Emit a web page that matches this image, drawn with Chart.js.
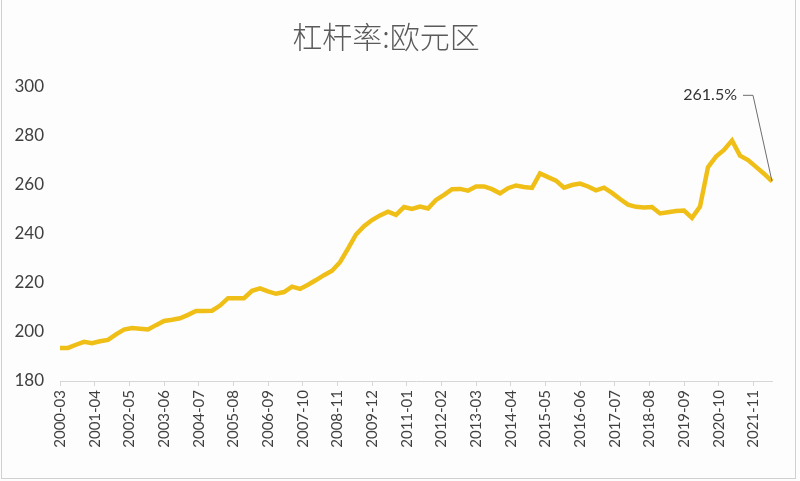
<!DOCTYPE html>
<html>
<head>
<meta charset="utf-8">
<script src="https://cdn.jsdelivr.net/npm/chart.js@4/dist/chart.umd.min.js"></script>
<style>
  html, body { margin: 0; padding: 0; background: #fdfdfd; }
  #wrap { position: relative; width: 800px; height: 481px; }
</style>
</head>
<body>
<div id="wrap"><canvas id="c" width="800" height="481"></canvas></div>
<script>
// ---- data (quarter-end observations, 2000-03 .. 2022-06) ----
const titleText = '杠杆率:欧元区';
const startYear = 2000;
const startMonth = 3;
const endYear = 2022;
const endMonth = 6;
const tickEvery = 13;
const leverage = [
  193.5, 193.5, 194.8, 196.0, 195.4, 196.2, 196.8, 199.0, 201.0, 201.6,
  201.3, 201.0, 202.8, 204.5, 205.0, 205.6, 207.0, 208.6, 208.6, 208.7,
  210.8, 213.8, 213.8, 213.8, 216.8, 217.8, 216.6, 215.6, 216.3, 218.5,
  217.6, 219.3, 221.2, 223.2, 225.0, 228.5, 234.0, 239.8, 243.2, 245.7,
  247.6, 249.1, 247.8, 251.0, 250.2, 251.2, 250.4, 253.9, 256.0, 258.3,
  258.4, 257.7, 259.4, 259.4, 258.3, 256.6, 258.7, 259.8, 259.2, 258.8,
  264.7, 263.2, 261.8, 258.9, 260.0, 260.6, 259.4, 257.8, 258.9, 256.8,
  254.3, 252.0, 251.1, 250.8, 251.0, 248.4, 248.9, 249.4, 249.6, 246.6,
  251.2, 267.3, 271.6, 274.3, 278.2, 272.0, 270.2, 267.4, 264.6, 261.5
];
const lastLabel = '261.5%';
const yTicks = { min: 180, max: 300, step: 20 };

// ---- build monthly category axis ----
const months = [];
{
  let y = startYear, m = startMonth;
  while (y < endYear || (y === endYear && m <= endMonth)) {
    months.push(y + '-' + String(m).padStart(2, '0'));
    m++; if (m > 12) { m = 1; y++; }
  }
}
const series = months.map(() => null);
leverage.forEach((v, q) => { series[q * 3] = v; });

const frame = {
  id: 'frame',
  beforeDraw(chart) {
    const c = chart.ctx;
    c.save();
    c.fillStyle = '#fdfdfd';
    c.fillRect(0, 0, chart.width, chart.height);
    c.restore();
  },
  afterDraw(chart) {
    const c = chart.ctx;
    c.save();
    c.strokeStyle = '#d0d0d0';
    c.lineWidth = 1;
    c.strokeRect(1.5, -5, 794, 483.5);
    c.restore();
  }
};

const callout = {
  id: 'callout',
  afterDatasetsDraw(chart) {
    const meta = chart.getDatasetMeta(0);
    const pt = meta.data[meta.data.length - 1];
    if (!pt) return;
    const c = chart.ctx;
    c.save();
    c.strokeStyle = '#6e6e6e';
    c.lineWidth = 1;
    c.beginPath();
    c.moveTo(pt.x, pt.y);
    c.lineTo(pt.x - 19, pt.y - 86);
    c.lineTo(pt.x - 29, pt.y - 86);
    c.stroke();
    c.fillStyle = '#333333';
    c.font = '16px Lato, "Noto Sans", sans-serif';
    c.textAlign = 'right';
    c.textBaseline = 'middle';
    c.fillText(lastLabel, pt.x - 35, pt.y - 86);
    c.restore();
  }
};

new Chart(document.getElementById('c'), {
  type: 'line',
  data: {
    labels: months,
    datasets: [{
      data: series,
      borderColor: '#efbf17',
      borderWidth: 4.5,
      pointRadius: 0,
      tension: 0,
      spanGaps: true,
      fill: false
    }]
  },
  options: {
    responsive: false,
    animation: false,
    layout: { padding: { left: 0, right: 28, top: 0, bottom: 0 } },
    plugins: {
      legend: { display: false },
      tooltip: { enabled: false },
      title: {
        display: true,
        text: titleText,
        color: '#5a5a5a',
        font: { family: '"Noto Sans CJK SC", sans-serif', size: 30, weight: 300, lineHeight: 1.2 },
        padding: { top: 19, bottom: 32 }
      }
    },
    scales: {
      x: {
        grid: { display: true, drawOnChartArea: false, drawTicks: true, tickLength: 5, color: '#d6d6d6' },
        border: { display: true, color: '#d6d6d6' },
        afterFit(s) { s.height = 100; },
        ticks: {
          autoSkip: false,
          maxRotation: 90,
          minRotation: 90,
          padding: 4,
          color: '#404040',
          font: { family: 'Lato, "Noto Sans", sans-serif', size: 15 },
          callback(v, i) { return i % tickEvery === 0 ? months[i] : null; }
        }
      },
      y: {
        min: yTicks.min,
        max: yTicks.max,
        grid: { display: false },
        border: { display: false },
        afterFit(s) { s.width = 60; },
        ticks: {
          stepSize: yTicks.step,
          padding: 8,
          color: '#404040',
          font: { family: 'Lato, "Noto Sans", sans-serif', size: 17 }
        }
      }
    }
  },
  plugins: [frame, callout]
});
</script>
</body>
</html>
